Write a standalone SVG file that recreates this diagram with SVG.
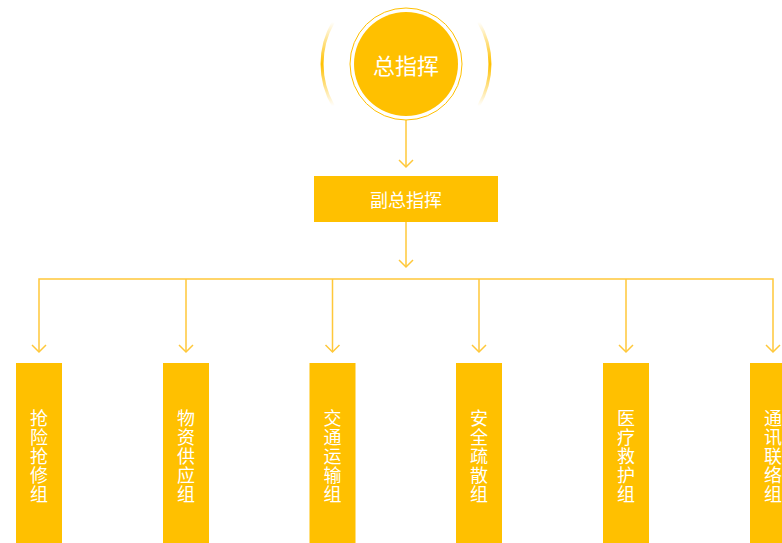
<svg xmlns="http://www.w3.org/2000/svg" width="782" height="543" viewBox="0 0 782 543">
<style>
.box{fill:#FFC000}
.ln{fill:none;stroke:#FFC83A;stroke-width:1.5}
.ah{fill:none;stroke:#FFC83A;stroke-width:1.5}
.t{font-family:"Noto Sans CJK SC","Noto Sans",sans-serif;fill:#FFFFFF;text-anchor:middle;dominant-baseline:central}
</style>
<defs>
<linearGradient id="arcg" gradientUnits="userSpaceOnUse" x1="0" y1="22" x2="0" y2="106">
<stop offset="0" stop-color="#FFC000" stop-opacity="0"/>
<stop offset="0.5" stop-color="#FFC000" stop-opacity="1"/>
<stop offset="1" stop-color="#FFC000" stop-opacity="0"/>
</linearGradient>
<marker id="arr" viewBox="0 0 16 10" refX="8" refY="9" markerWidth="16" markerHeight="10" markerUnits="userSpaceOnUse" orient="auto-start-reverse">
<path d="M1 2 L8 9 L15 2" fill="none" stroke="#FFC83A" stroke-width="1.5"/>
</marker>
</defs>
<rect width="782" height="543" fill="#FFFFFF"/>
<g id="connectors">
<path class="ln" d="M406 120 V167"/>
<path class="ah" d="M399 160 L406 167 L413 160"/>
<path class="ln" d="M406 222 V267"/>
<path class="ah" d="M399 260 L406 267 L413 260"/>
<path class="ln" d="M39 352 V279 H773 V352"/>
<path class="ln" d="M186 279 V352 M332.5 279 V352 M479 279 V352 M626 279 V352"/>
<path class="ah" d="M32 345 L39 352 L46 345 M179 345 L186 352 L193 345 M325.5 345 L332.5 352 L339.5 345 M472 345 L479 352 L486 345 M619 345 L626 352 L633 345 M766 345 L773 352 L780 345"/>
</g>
<g id="n0">
<path d="M333.3 22 A84 84 0 0 0 333.3 106" fill="none" stroke="url(#arcg)" stroke-width="3"/>
<path d="M478.7 22 A84 84 0 0 1 478.7 106" fill="none" stroke="url(#arcg)" stroke-width="3"/>
<circle cx="406" cy="64" r="56" fill="none" stroke="#FFC000" stroke-width="1"/>
<circle cx="406" cy="64" r="52" class="box"/>
<text class="t" x="406" y="64" font-size="22">总指挥</text>
</g>
<g id="n1">
<rect class="box" x="314" y="176" width="184" height="46"/>
<text class="t" x="406" y="199" font-size="18">副总指挥</text>
</g>
<g id="g1">
<rect class="box" x="16" y="363" width="46" height="180"/>
<text class="t" font-size="18"><tspan x="39" y="417">抢</tspan><tspan x="39" y="436">险</tspan><tspan x="39" y="455">抢</tspan><tspan x="39" y="474">修</tspan><tspan x="39" y="493">组</tspan></text>
</g>
<g id="g2">
<rect class="box" x="163" y="363" width="46" height="180"/>
<text class="t" font-size="18"><tspan x="186" y="417">物</tspan><tspan x="186" y="436">资</tspan><tspan x="186" y="455">供</tspan><tspan x="186" y="474">应</tspan><tspan x="186" y="493">组</tspan></text>
</g>
<g id="g3">
<rect class="box" x="309.5" y="363" width="46" height="180"/>
<text class="t" font-size="18"><tspan x="332.5" y="417">交</tspan><tspan x="332.5" y="436">通</tspan><tspan x="332.5" y="455">运</tspan><tspan x="332.5" y="474">输</tspan><tspan x="332.5" y="493">组</tspan></text>
</g>
<g id="g4">
<rect class="box" x="456" y="363" width="46" height="180"/>
<text class="t" font-size="18"><tspan x="479" y="417">安</tspan><tspan x="479" y="436">全</tspan><tspan x="479" y="455">疏</tspan><tspan x="479" y="474">散</tspan><tspan x="479" y="493">组</tspan></text>
</g>
<g id="g5">
<rect class="box" x="603" y="363" width="46" height="180"/>
<text class="t" font-size="18"><tspan x="626" y="417">医</tspan><tspan x="626" y="436">疗</tspan><tspan x="626" y="455">救</tspan><tspan x="626" y="474">护</tspan><tspan x="626" y="493">组</tspan></text>
</g>
<g id="g6">
<rect class="box" x="750" y="363" width="46" height="180"/>
<text class="t" font-size="18"><tspan x="773" y="417">通</tspan><tspan x="773" y="436">讯</tspan><tspan x="773" y="455">联</tspan><tspan x="773" y="474">络</tspan><tspan x="773" y="493">组</tspan></text>
</g>
</svg>
